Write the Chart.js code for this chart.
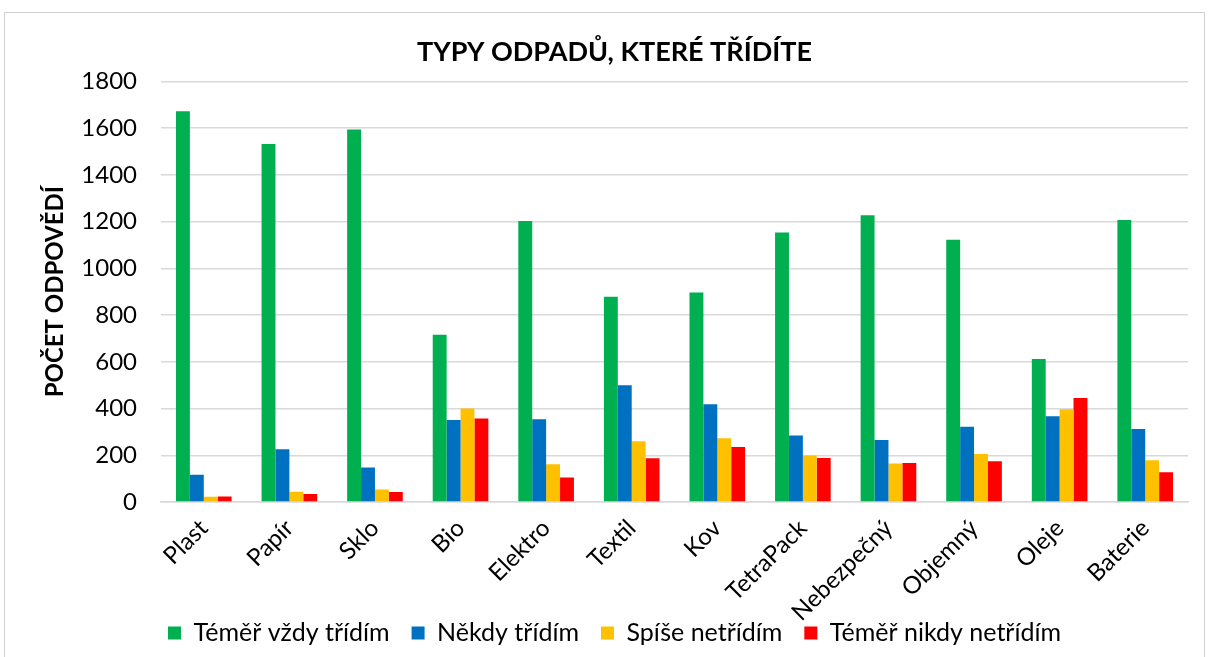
<!DOCTYPE html>
<html>
<head>
<meta charset="utf-8">
<script src="https://cdn.jsdelivr.net/npm/chart.js@4"></script>
<style>
  body { margin: 0; background: #fff; }
  #wrap {
    position: absolute; left: 4px; top: 12px;
    width: 1201px; height: 650px;
    border: 1px solid #d0d0d0; box-sizing: border-box;
  }
</style>
</head>
<body>
<div id="wrap"><canvas id="odpadChart"></canvas></div>
<script>
const categories = ["Plast", "Papír", "Sklo", "Bio", "Elektro", "Textil", "Kov", "TetraPack", "Nebezpečný", "Objemný", "Oleje", "Baterie"];
const temerVzdy = [1672, 1532, 1594, 716, 1203, 878, 897, 1153, 1227, 1122, 612, 1207];
const nekdy = [117, 226, 148, 351, 354, 500, 418, 285, 265, 322, 367, 312];
const spiseNe = [23, 44, 54, 400, 162, 260, 273, 199, 165, 205, 397, 179];
const temerNikdy = [24, 34, 43, 357, 105, 187, 235, 188, 167, 174, 445, 127];
const seriesNames = ["Téměř vždy třídím", "Někdy třídím", "Spíše netřídím", "Téměř nikdy netřídím"];
const seriesColors = ["#00B050", "#0070C0", "#FFC000", "#FF0000"];

const ctx = document.getElementById("odpadChart").getContext("2d");
const font = "Lato, 'Open Sans', sans-serif";
const legendSize = 25;

// legend sits over the bottom of the rotated labels like in Excel,
// so move it a bit and stop the x labels being clipped to the axis box
const legendShift = {
  id: "legendShift",
  afterLayout(chart) {
    chart.scales.x.bottom = chart.height;
    const lg = chart.legend;
    const pad = lg.options.labels.padding;
    const dy = 620 - (lg.top + pad + legendSize / 2);
    lg.top += dy;
    lg.bottom += dy;
  },
};

const odpadChart = new Chart(ctx, {
  type: "bar",
  data: {
    labels: categories,
    datasets: [temerVzdy, nekdy, spiseNe, temerNikdy].map((vals, i) => ({
      label: seriesNames[i],
      data: vals,
      backgroundColor: seriesColors[i],
      borderWidth: 0,
    })),
  },
  options: {
    responsive: true,
    maintainAspectRatio: false,
    animation: false,
    layout: { padding: { left: 36, right: 16, top: 0, bottom: 0 } },
    datasets: { bar: { barPercentage: 1, categoryPercentage: 0.65 } },
    plugins: {
      title: {
        display: true,
        text: "TYPY ODPADŮ, KTERÉ TŘÍDÍTE",
        color: "#000",
        font: { family: font, size: 27, weight: "bold" },
        padding: { top: 23, bottom: 13 },
      },
      legend: {
        position: "bottom",
        labels: {
          color: "#000",
          font: { family: font, size: legendSize },
          boxWidth: 13,
          boxHeight: 13,
          padding: 22,
        },
      },
      tooltip: { enabled: false },
    },
    scales: {
      x: {
        grid: { display: false },
        border: { color: "#d9d9d9", width: 1.5 },
        ticks: {
          color: "#000",
          font: { family: font, size: 24 },
          minRotation: 45,
          maxRotation: 45,
          padding: 4,
        },
        afterFit: (scale) => { scale.height = 102; },
      },
      y: {
        min: 0,
        max: 1800,
        grid: { color: "#d9d9d9", lineWidth: 1.5, drawTicks: false },
        border: { display: false },
        ticks: {
          stepSize: 200,
          color: "#000",
          font: { family: font, size: 24 },
          padding: 24,
          callback: (v) => String(v),
        },
        title: {
          display: true,
          text: "POČET ODPOVĚDÍ",
          color: "#000",
          font: { family: font, size: 24, weight: "bold" },
          padding: { top: 0, bottom: 0 },
        },
        afterFit: (scale) => { scale.width = 120; },
      },
    },
  },
  plugins: [legendShift],
});
</script>
</body>
</html>
